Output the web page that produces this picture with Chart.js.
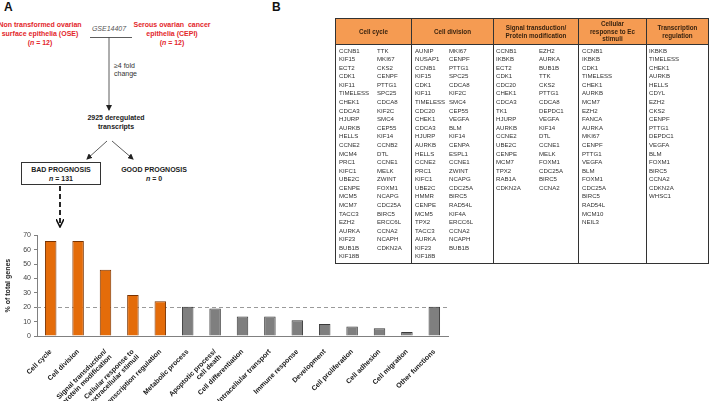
<!DOCTYPE html>
<html>
<head>
<meta charset="utf-8">
<script src="https://cdn.jsdelivr.net/npm/chart.js@4.4.0/dist/chart.umd.min.js"></script>
<style>
  body { margin: 0; width: 709px; height: 401px; position: relative; overflow: hidden; background: #fff;
         font-family: "Liberation Sans", Arial, sans-serif; }
  .abs { position: absolute; }
  .panel { font-weight: bold; font-size: 12px; color: #111; }
  .red { color: #e3262b; font-weight: bold; font-size: 7px; line-height: 8.8px; text-align: center; white-space: nowrap; }
  .flow { color: #222; font-weight: bold; font-size: 7px; line-height: 9px; text-align: center; white-space: nowrap; }
  .note { color: #333; font-size: 7px; line-height: 7.5px; white-space: nowrap; }
  .hdr { box-sizing: border-box; background: #f59b52; border-bottom: 1px solid #333; display: flex;
         align-items: center; justify-content: center; text-align: center; font-weight: bold;
         font-size: 6.3px; line-height: 7.4px; color: #3a2410; }
  .col { box-sizing: border-box; }
  .genes { font-size: 6.1px; line-height: 8.58px; color: #333; white-space: nowrap; }
</style>
</head>
<body>
<div class="abs panel" style="left:4px;top:0px;">A</div>
<div class="abs panel" style="left:272px;top:0px;">B</div>

<div class="abs red" style="left:-10px;top:21px;width:100px;">Non transformed ovarian<br>surface epithelia (OSE)<br>(<i>n</i> = 12)</div>
<div class="abs red" style="left:122px;top:21px;width:100px;">Serous ovarian&nbsp; cancer<br>epithelia (CEPI)<br>(<i>n</i> = 12)</div>
<div class="abs" style="left:80px;top:25px;width:58px;text-align:center;font-size:7px;font-style:italic;color:#555;">GSE14407</div>
<div class="abs note" style="left:114px;top:62px;">&ge;4 fold<br>change</div>
<div class="abs flow" style="left:76px;top:113px;width:80px;">2925 deregulated<br>transcripts</div>
<div class="abs" style="left:21px;top:162px;width:80px;height:23px;box-sizing:border-box;border:1px solid #333;"></div>
<div class="abs flow" style="left:21px;top:164.5px;width:80px;">BAD PROGNOSIS<br><i>n</i> = 131</div>
<div class="abs flow" style="left:114px;top:164.5px;width:80px;">GOOD PROGNOSIS<br><i>n</i> = 0</div>

<svg class="abs" style="left:0;top:0;" width="709" height="401">
  <defs>
    <marker id="ah" markerWidth="6" markerHeight="6" refX="5" refY="3" orient="auto" markerUnits="userSpaceOnUse">
      <path d="M0,0 L6,3 L0,6 Z" fill="#222"/>
    </marker>
    <marker id="ah2" markerWidth="9" markerHeight="8" refX="8" refY="4" orient="auto" markerUnits="userSpaceOnUse">
      <path d="M0,0 L8,4 L0,8" fill="none" stroke="#111" stroke-width="1.6"/>
    </marker>
  </defs>
  <line x1="90" y1="37.5" x2="132" y2="37.5" stroke="#333" stroke-width="0.8"/>
  <line x1="109" y1="37.5" x2="109" y2="110" stroke="#333" stroke-width="0.8" marker-end="url(#ah)"/>
  <line x1="107" y1="141" x2="87" y2="159" stroke="#333" stroke-width="0.8" marker-end="url(#ah)"/>
  <line x1="112" y1="141" x2="133" y2="159" stroke="#333" stroke-width="0.8" marker-end="url(#ah)"/>
  <line x1="60" y1="186" x2="60" y2="227" stroke="#111" stroke-width="1.8" stroke-dasharray="5,3" marker-end="url(#ah2)"/>
</svg>

<div class="abs" style="left:0;top:228px;width:455px;height:173px;">
  <canvas id="bars"></canvas>
</div>

<div id="table" class="abs" style="left:0;top:0;"></div>

<script>
// bar chart data (% of the 131 bad-prognosis genes)
const categories = [
  'Cell cycle', 'Cell division', ['Signal transduction/', 'protein modification'],
  ['Cellular response to', 'extracellular stimuli'], 'Transcription regulation',
  'Metabolic process', ['Apoptotic process/', 'cell death'], 'Cell differentiation',
  'Intracellular transport', 'Immune response', 'Development', 'Cell proliferation',
  'Cell adhesion', 'Cell migration', 'Other functions'
];
const percentGenes = [66, 66, 46, 28.5, 24.2, 20.3, 19.1, 13.5, 13.5, 11, 8.3, 6.6, 5.4, 2.7, 20.3];
const threshold = 20;
const yMax = 70;
const yStep = 10;

// gene table data
const cellCycleA = ['CCNB1','KIF15','ECT2','CDK1','KIF11','TIMELESS','CHEK1','CDCA3','HJURP','AURKB','HELLS','CCNE2','MCM4','PRC1','KIFC1','UBE2C','CENPE','MCM5','MCM7','TACC3','EZH2','AURKA','KIF23','BUB1B','KIF18B'];
const cellCycleB = ['TTK','MKI67','CKS2','CENPF','PTTG1','SPC25','CDCA8','KIF2C','SMC4','CEP55','KIF14','CCNB2','DTL','CCNE1','MELK','ZWINT','FOXM1','NCAPG','CDC25A','BIRC5','ERCC6L','CCNA2','NCAPH','CDKN2A'];
const cellDivisionA = ['AUNIP','NUSAP1','CCNB1','KIF15','CDK1','KIF11','TIMELESS','CDC20','CHEK1','CDCA3','HJURP','AURKB','HELLS','CCNE2','PRC1','KIFC1','UBE2C','HMMR','CENPE','MCM5','TPX2','TACC3','AURKA','KIF23','KIF18B'];
const cellDivisionB = ['MKI67','CENPF','PTTG1','SPC25','CDCA8','KIF2C','SMC4','CEP55','VEGFA','BLM','KIF14','CENPA','ESPL1','CCNE1','ZWINT','NCAPG','CDC25A','BIRC5','RAD54L','KIF4A','ERCC6L','CCNA2','NCAPH','BUB1B'];
const signalA = ['CCNB1','IKBKB','ECT2','CDK1','CDC20','CHEK1','CDCA3','TK1','HJURP','AURKB','CCNE2','UBE2C','CENPE','MCM7','TPX2','RAB1A','CDKN2A'];
const signalB = ['EZH2','AURKA','BUB1B','TTK','CKS2','PTTG1','CDCA8','DEPDC1','VEGFA','KIF14','DTL','CCNE1','MELK','FOXM1','CDC25A','BIRC5','CCNA2'];
const responseGenes = ['CCNB1','IKBKB','CDK1','TIMELESS','CHEK1','AURKB','MCM7','EZH2','FANCA','AURKA','MKI67','CENPF','PTTG1','VEGFA','BLM','FOXM1','CDC25A','BIRC5','RAD54L','MCM10','NEIL3'];
const transcriptionGenes = ['IKBKB','TIMELESS','CHEK1','AURKB','HELLS','CDYL','EZH2','CKS2','CENPF','PTTG1','DEPDC1','VEGFA','BLM','FOXM1','BIRC5','CCNA2','CDKN2A','WHSC1'];

const tableCols = [
  { title: 'Cell cycle', lists: [cellCycleA, cellCycleB] },
  { title: 'Cell division', lists: [cellDivisionA, cellDivisionB] },
  { title: 'Signal transduction/<br>Protein modification', lists: [signalA, signalB] },
  { title: 'Cellular<br>response to Ec<br>stimuli', lists: [responseGenes] },
  { title: 'Transcription<br>regulation', lists: [transcriptionGenes] }
];

// table layout
const colEdges = [335, 411, 493, 578, 646, 708];
const subOffsets = [[4, 42], [4, 38], [3, 46], [4], [3]];
const tableTop = 18, headerH = 26, tableBottom = 264;

const table = document.getElementById('table');
tableCols.forEach((c, i) => {
  const col = document.createElement('div');
  col.className = 'abs col';
  col.style.left = colEdges[i] + 'px';
  col.style.top = tableTop + 'px';
  col.style.width = (colEdges[i + 1] - colEdges[i] + 1) + 'px';
  col.style.height = (tableBottom - tableTop) + 'px';
  col.style.border = '1px solid #333';
  table.appendChild(col);

  const hdr = document.createElement('div');
  hdr.className = 'abs hdr';
  hdr.style.left = (colEdges[i] + 1) + 'px';
  hdr.style.top = (tableTop + 1) + 'px';
  hdr.style.width = (colEdges[i + 1] - colEdges[i] - 1) + 'px';
  hdr.style.height = headerH + 'px';
  hdr.innerHTML = c.title;
  table.appendChild(hdr);

  c.lists.forEach((list, j) => {
    const g = document.createElement('div');
    g.className = 'abs genes';
    g.style.left = (colEdges[i] + subOffsets[i][j]) + 'px';
    g.style.top = (tableTop + headerH + 2.6) + 'px';
    g.innerHTML = list.join('<br>');
    table.appendChild(g);
  });
});

// dashed reference line at 20 %
const refLine = {
  id: 'refLine',
  beforeDatasetsDraw(chart) {
    const { ctx, chartArea, scales } = chart;
    const y = Math.round(scales.y.getPixelForValue(threshold)) + 0.5;
    ctx.save();
    ctx.strokeStyle = '#9a9a9a';
    ctx.lineWidth = 1;
    ctx.setLineDash([4, 3]);
    ctx.beginPath();
    ctx.moveTo(chartArea.left, y);
    ctx.lineTo(chartArea.right, y);
    ctx.stroke();
    ctx.restore();
  }
};

const highlighted = 5; // first five categories drawn in orange
const fills = percentGenes.map((v, i) => i < highlighted ? '#e46c0a' : '#7f7f7f');
const edges = percentGenes.map((v, i) => i < highlighted ? '#7a3300' : '#3a3a3a');

new Chart(document.getElementById('bars'), {
  type: 'bar',
  data: {
    labels: categories,
    datasets: [{
      data: percentGenes,
      backgroundColor: fills,
      borderColor: edges,
      borderWidth: 1,
      barPercentage: 0.42,
      categoryPercentage: 1
    }]
  },
  options: {
    responsive: true,
    maintainAspectRatio: false,
    animation: false,
    layout: { padding: { top: 7, right: 7, left: 0, bottom: 0 } },
    plugins: { legend: { display: false }, tooltip: { enabled: false } },
    scales: {
      x: {
        grid: { display: false },
        border: { display: true, color: '#808080', width: 1 },
        ticks: {
          autoSkip: false, minRotation: 45, maxRotation: 45, padding: 4,
          color: '#1a1a1a', font: { family: 'Liberation Sans', size: 7, weight: 'bold', lineHeight: 1.05 }
        },
        afterFit: s => { s.height = 65; }
      },
      y: {
        min: 0, max: yMax,
        grid: { display: true, drawOnChartArea: false, drawTicks: true, tickLength: 3, color: '#808080' },
        border: { display: true, color: '#808080', width: 1 },
        ticks: { stepSize: yStep, padding: 3, color: '#444', font: { family: 'Liberation Sans', size: 7 } },
        title: {
          display: true, text: '% of total genes', color: '#222', padding: { top: 4, bottom: 0 },
          font: { family: 'Liberation Sans', size: 7, weight: 'bold' }
        },
        afterFit: s => { s.width = 37; }
      }
    }
  },
  plugins: [refLine]
});
</script>
</body>
</html>
